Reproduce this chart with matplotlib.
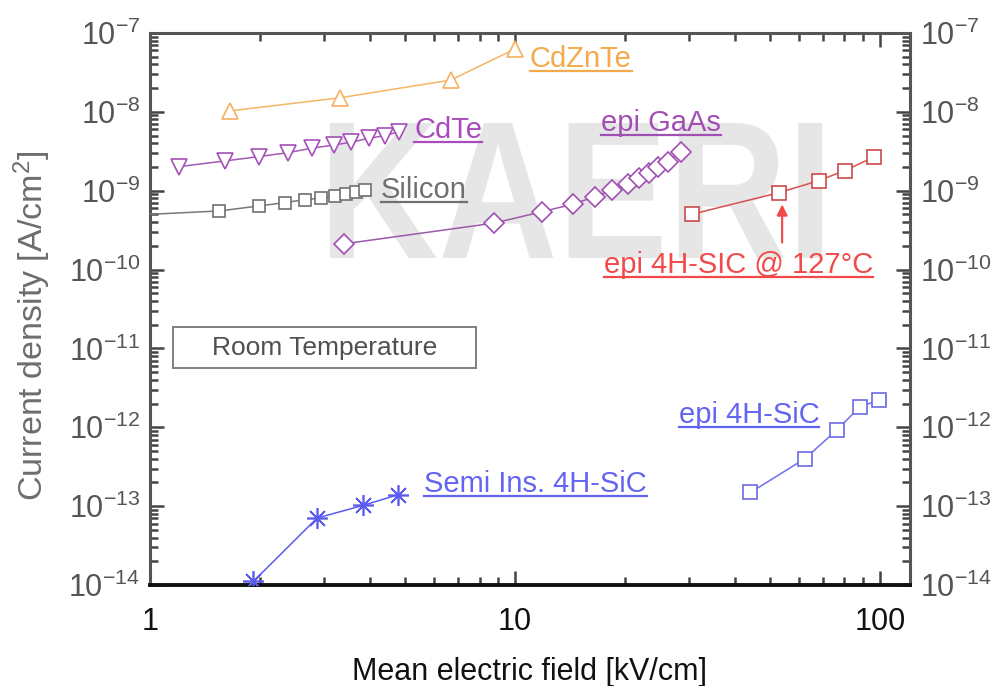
import matplotlib
matplotlib.use("Agg")
import matplotlib.pyplot as plt
from matplotlib.ticker import LogLocator, FuncFormatter, NullFormatter
from matplotlib.textpath import TextPath
from matplotlib.font_manager import FontProperties
from matplotlib.patches import PathPatch, Rectangle
from matplotlib.transforms import Affine2D, IdentityTransform
from matplotlib.lines import Line2D

plt.rcParams['font.family'] = ['Liberation Sans', 'DejaVu Sans']
plt.rcParams['mathtext.fontset'] = 'custom'
plt.rcParams['mathtext.rm'] = 'Liberation Sans'
plt.rcParams['mathtext.it'] = 'Liberation Sans:italic'
plt.rcParams['mathtext.bf'] = 'Liberation Sans:bold'
plt.rcParams['axes.unicode_minus'] = False

# --- data (field in kV/cm, current density in A/cm^2)
cdznte_x = [1.66, 3.32, 6.67, 10.0]
cdznte_y = [1.03e-8, 1.51e-8, 2.53e-8, 6.26e-8]

cdte_x = [1.20, 1.61, 1.99, 2.39, 2.78, 3.19, 3.56, 3.98, 4.41, 4.80]
cdte_y = [2.02e-9, 2.39e-9, 2.71e-9, 3.04e-9, 3.46e-9, 3.80e-9, 4.12e-9,
          4.63e-9, 4.99e-9, 5.61e-9]

si_x = [0.9, 1.55, 1.99, 2.34, 2.66, 2.94, 3.22, 3.45, 3.67, 3.89]
si_y = [4.9e-10, 5.54e-10, 6.41e-10, 7.06e-10, 7.71e-10, 8.04e-10, 8.67e-10,
        9.12e-10, 9.66e-10, 1.01e-9]

gaas_x = [3.40, 8.76, 11.9, 14.4, 16.6, 18.4, 20.4, 21.9, 23.3, 24.7, 26.2, 28.5]
gaas_y = [2.12e-10, 3.88e-10, 5.43e-10, 6.74e-10, 8.42e-10, 1.02e-9, 1.21e-9,
          1.44e-9, 1.69e-9, 2.02e-9, 2.34e-9, 3.13e-9]

sic_hot_x = [30.6, 53.0, 68.0, 80.1, 96.3]
sic_hot_y = [5.04e-10, 9.46e-10, 1.34e-9, 1.80e-9, 2.66e-9]

sic_epi_x = [44.2, 62.3, 76.4, 88.2, 99.2]
sic_epi_y = [1.49e-13, 3.99e-13, 9.3e-13, 1.82e-12, 2.21e-12]

sic_si_x = [1.92, 2.87, 3.83, 4.77]
sic_si_y = [1.11e-14, 7.07e-14, 1.02e-13, 1.39e-13]

W, H = 998, 686
fig = plt.figure(figsize=(W / 100, H / 100), dpi=100)
ax = fig.add_axes([150 / W, 101 / H, 760 / W, 552 / H])
ax.set_xscale('log')
ax.set_yscale('log')
ax.set_xlim(1, 121)
ax.set_ylim(1e-14, 1e-7)

# watermark
fp = FontProperties(family='Liberation Sans', weight='bold')
tp = TextPath((0, 0), 'KAERI', size=100, prop=fp)
ext = tp.get_extents()
tr = (Affine2D().translate(-ext.x0, -ext.y0)
      .scale((822 - 330) / ext.width, (258 - 123) / ext.height)
      .translate(330, H - 258))
ax.add_patch(PathPatch(tp, transform=tr, facecolor='#e6e6e6', lw=0,
                       zorder=0.5, clip_on=False))

series = [
    (cdznte_x, cdznte_y, '^', 12, '#f6b565', '#f5b060'),
    (cdte_x, cdte_y, 'v', 11, '#a259b5', '#a64fb8'),
    (si_x, si_y, 's', 8, '#777777', '#707070'),
    (gaas_x, gaas_y, 'D', 10, '#9b5aa8', '#a04fb2'),
    (sic_hot_x, sic_hot_y, 's', 9.5, '#d85050', '#cc4a4a'),
    (sic_epi_x, sic_epi_y, 's', 9.5, '#7070ee', '#6a6ae6'),
    (sic_si_x, sic_si_y, (8, 2, 0), 15, '#5b5bf0', '#5a5af0'),
]
for x, y, m, ms, lc, mc in series:
    ax.plot(x, y, color=lc, lw=1.1, marker=m, ms=ms, mfc='white', mec=mc,
            mew=1.2, zorder=3)

ax.annotate('', xy=(54, 6.7e-10), xytext=(54, 2.2e-10),
            arrowprops=dict(arrowstyle='-|>', color='#f04848', lw=1.5,
                            mutation_scale=16, shrinkA=0, shrinkB=0))

labels = [
    ('CdZnTe', 10.99, 3.71e-8, '#f5a94a'),
    ('CdTe', 5.30, 4.67e-9, '#a84cbb'),
    ('Silicon', 4.30, 8.11e-10, '#707070'),
    ('epi GaAs', 17.2, 5.78e-9, '#a24fb5'),
    ('epi 4H-SIC @ 127°C', 17.5, 9.16e-11, '#f24a4a'),
    ('epi 4H-SiC', 28.1, 1.14e-12, '#6464f2'),
    ('Semi Ins. 4H-SiC', 5.64, 1.53e-13, '#6464f2'),
]
texts = []
for s, x, y, c in labels:
    t = ax.text(x, y, s, color=c, fontsize=21, ha='left', va='baseline',
                zorder=4)
    texts.append((t, x, y, c))

ax.add_patch(Rectangle((23 / 760, 217 / 552), 303 / 760, 41 / 552,
                       transform=ax.transAxes, fill=False, ec='#808080',
                       lw=1.4, zorder=4))
ax.text(174.5 / 760, 237.5 / 552, 'Room Temperature', transform=ax.transAxes,
        ha='center', va='center', fontsize=19, color='#505050', zorder=4)

# axes styling
for side in ['left', 'top', 'right']:
    ax.spines[side].set_color('#555555')
    ax.spines[side].set_linewidth(2.2)
ax.spines['bottom'].set_color('#111111')
ax.spines['bottom'].set_linewidth(2.8)

ax.yaxis.set_major_locator(LogLocator(base=10, numticks=10))
ax.yaxis.set_minor_locator(LogLocator(base=10, subs=range(2, 10), numticks=20))
ax.yaxis.set_minor_formatter(NullFormatter())
ax.xaxis.set_minor_formatter(NullFormatter())
ax.xaxis.set_major_formatter(FuncFormatter(lambda v, p: '%g' % v))

ax.tick_params(which='both', direction='in', top=True, right=True,
               color='#444444', width=1.8)
ax.tick_params(which='major', length=10)
ax.tick_params(which='minor', length=6)
ax.tick_params(axis='y', labelright=True, labelsize=22, labelcolor='#555555',
               pad=7)
ax.tick_params(axis='x', labelsize=22, labelcolor='#111111', pad=16)

ax.set_xlabel('Mean electric field [kV/cm]', fontsize=22, color='#111111',
              labelpad=14)
ax.set_ylabel('Current density [A/cm$^2$]', fontsize=24.5, color='#6d6d6d')
ax.yaxis.set_label_coords(-0.128, 0.469)

# underlines below the series labels
fig.canvas.draw()
for t, x, y, c in texts:
    bb = t.get_window_extent()
    yb = ax.transData.transform((x, y))[1] - 4
    fig.add_artist(Line2D([bb.x0, bb.x1], [yb, yb], transform=IdentityTransform(),
                          color=c, lw=1.6))

fig.savefig('out.png', dpi=100)
